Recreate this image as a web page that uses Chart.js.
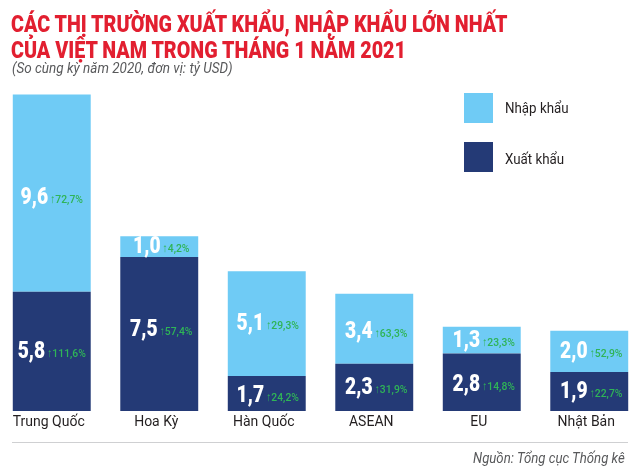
<!DOCTYPE html>
<html lang="vi">
<head>
<meta charset="utf-8">
<title>Các thị trường xuất khẩu, nhập khẩu lớn nhất</title>
<script src="https://cdn.jsdelivr.net/npm/chart.js@4"></script>
<style>
  html, body { margin: 0; padding: 0; background: #fff; }
  body { position: relative; width: 640px; height: 471px; overflow: hidden; font-family: Roboto, sans-serif; }
  #wrap { position: absolute; left: -2px; top: 0; width: 646px; height: 471px; }
  .txt { position: absolute; white-space: nowrap; transform-origin: left top; }
  .title { left: 11px; color: #e21f30; font-weight: 900; font-size: 23.5px; line-height: 28px; transform: scaleX(0.84); }
  .sub { left: 12px; top: 60px; color: #58595b; font-style: italic; font-size: 14.5px; line-height: 18px; transform: scaleX(0.93); }
  .swatch { position: absolute; left: 464px; width: 29px; height: 30px; }
  .leg { left: 505px; color: #231f20; font-size: 15.5px; line-height: 18px; transform: scaleX(0.86); }
  .rule { position: absolute; left: 12px; top: 442px; width: 616px; height: 1px; background: #cfd0d2; }
  .src { left: 473px; top: 450px; color: #58595b; font-style: italic; font-size: 14.5px; line-height: 18px; transform: scaleX(0.91); }
</style>
</head>
<body>
<div id="wrap"><canvas id="chart"></canvas></div>
<div class="txt title" style="top:10px">CÁC THỊ TRƯỜNG XUẤT KHẨU, NHẬP KHẨU LỚN NHẤT</div>
<div class="txt title" style="top:36px">CỦA VIỆT NAM TRONG THÁNG 1 NĂM 2021</div>
<div class="txt sub">(So cùng kỳ năm 2020, đơn vị: tỷ USD)</div>
<div class="swatch" style="top:93px;background:#6fcbf5"></div>
<div class="txt leg" style="top:99px">Nhập khẩu</div>
<div class="swatch" style="top:142px;background:#243a76"></div>
<div class="txt leg" style="top:150px">Xuất khẩu</div>
<div class="rule"></div>
<div class="txt src">Nguồn: Tổng cục Thống kê</div>
<script>
const markets = ['Trung Quốc', 'Hoa Kỳ', 'Hàn Quốc', 'ASEAN', 'EU', 'Nhật Bản'];
const exportValues = [5.8, 7.5, 1.7, 2.3, 2.8, 1.9];
const importValues = [9.6, 1.0, 5.1, 3.4, 1.3, 2.0];
const exportGrowth = ['111,6%', '57,4%', '24,2%', '31,9%', '14,8%', '22,7%'];
const importGrowth = ['72,7%', '4,2%', '29,3%', '63,3%', '23,3%', '52,9%'];

const LIGHT = '#6fcbf5';
const DARK = '#243a76';
const GREEN = '#2fb457';
const VALUE_SX = 0.82;
const PCT_SX = 0.9;

// the labels are not quite centred on the bars in the original
const labelShiftX = [0, 2, 1, 2, 2, 2];
const exportShiftY = [1, -4, 3, 1, 3, 1];
const importShiftY = [5, 1, 0, 3, 1, 1];

// value + green growth figure, centred as one group on each bar segment
const barLabels = {
  id: 'barLabels',
  afterDatasetsDraw(chart) {
    const ctx = chart.ctx;
    const dpr = chart.currentDevicePixelRatio;
    [[exportGrowth, exportShiftY], [importGrowth, importShiftY]].forEach(([growth, shiftY], d) => {
      chart.getDatasetMeta(d).data.forEach((bar, i) => {
        const value = chart.data.datasets[d].data[i].toFixed(1).replace('.', ',');
        const pct = '↑' + growth[i];
        const y = (bar.y + bar.base) / 2 + shiftY[i];
        ctx.save();
        ctx.textBaseline = 'middle';
        ctx.font = '900 23.5px Roboto';
        const w1 = ctx.measureText(value).width * VALUE_SX;
        ctx.font = '500 11.5px Roboto';
        const w2 = ctx.measureText(pct).width * PCT_SX;
        const left = bar.x + labelShiftX[i] - (w1 + 2 + w2) / 2;

        ctx.fillStyle = '#fff';
        ctx.font = '900 23.5px Roboto';
        ctx.setTransform(VALUE_SX * dpr, 0, 0, dpr, left * dpr, y * dpr);
        ctx.fillText(value, 0, 0);
        ctx.fillStyle = GREEN;
        ctx.font = '500 11.5px Roboto';
        ctx.setTransform(PCT_SX * dpr, 0, 0, dpr, (left + w1 + 2) * dpr, (y + 2) * dpr);
        ctx.fillText(pct, 0, 0);
        ctx.restore();
      });
    });
  }
};

new Chart(document.getElementById('chart'), {
  type: 'bar',
  data: {
    labels: markets,
    datasets: [
      { label: 'Xuất khẩu', data: exportValues, backgroundColor: DARK },
      { label: 'Nhập khẩu', data: importValues, backgroundColor: LIGHT }
    ]
  },
  options: {
    responsive: true,
    maintainAspectRatio: false,
    animation: false,
    layout: { padding: { left: 0, right: 1, top: 0, bottom: 0 } },
    datasets: { bar: { categoryPercentage: 1, barPercentage: 0.725 } },
    plugins: { legend: { display: false }, tooltip: { enabled: false } },
    scales: {
      x: {
        stacked: true,
        grid: { display: false, drawTicks: false },
        border: { display: false },
        afterFit(axis) { axis.height = 60; },
        ticks: { color: '#231f20', font: { family: 'Roboto', size: 14 }, padding: 3, labelOffset: -3, maxRotation: 0 }
      },
      y: {
        stacked: true,
        display: false,
        min: 0,
        max: 20
      }
    }
  },
  plugins: [barLabels]
});
</script>
</body>
</html>
